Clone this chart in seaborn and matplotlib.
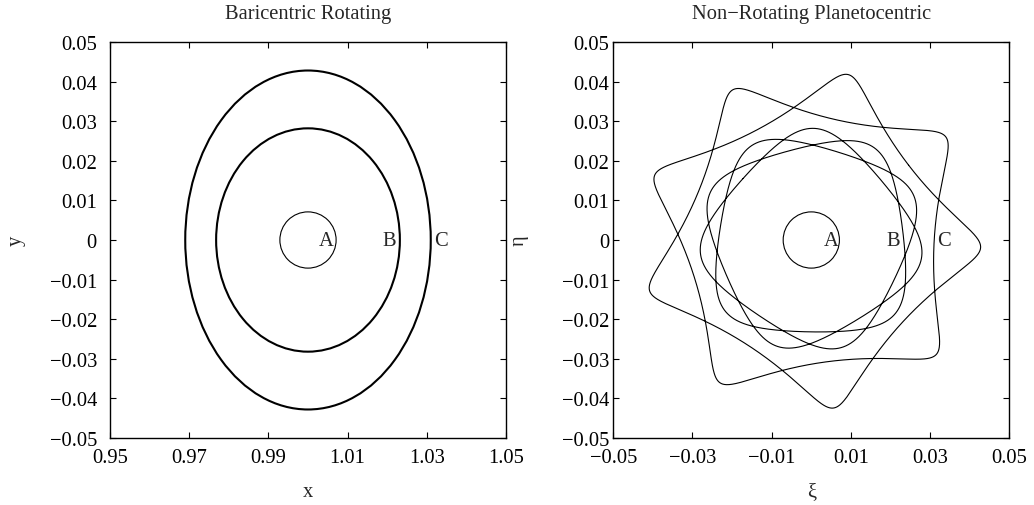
import numpy as np
import pandas as pd
import seaborn as sns
import matplotlib.pyplot as plt
from matplotlib.patches import Ellipse

sns.set_theme(style='ticks')
plt.rcParams['font.family'] = ['Liberation Serif', 'DejaVu Serif']
plt.rcParams['axes.unicode_minus'] = True

# orbits A, B, C around the planet
orbit_names = ['A', 'B', 'C']
planet_x = 1.0
semi_x = [0.0071, 0.0232, 0.0310]
semi_y = [0.0071, 0.0282, 0.0428]
# orbit rate / frame rate, tip direction (deg) and half turns drawn (non-rotating panel)
freq_ratio = [None, 2.2, 1.8]
tip_angle = [None, 89.0, -2.5]
half_turns = [None, 11, 9]

label_x_rot = [1.0047, 1.0205, 1.0335]
label_x_fix = [0.0049, 0.0207, 0.0336]

xticks_rot = [0.95, 0.97, 0.99, 1.01, 1.03, 1.05]
xticks_fix = [-0.05, -0.03, -0.01, 0.01, 0.03, 0.05]
yticks = [0.05, 0.04, 0.03, 0.02, 0.01, 0, -0.01, -0.02, -0.03, -0.04, -0.05]
xlabels_rot = ['0.95', '0.97', '0.99', '1.01', '1.03', '1.05']
xlabels_fix = ['\u22120.05', '\u22120.03', '\u22120.01', '0.01', '0.03', '0.05']
ylabels = ['0.05', '0.04', '0.03', '0.02', '0.01', '0', '\u22120.01', '\u22120.02',
           '\u22120.03', '\u22120.04', '\u22120.05']

FS = 14.8


def non_rotating(a, b, w, tip_deg, n_half):
    # rotating frame ellipse seen from non rotating planet centred axes
    theta = np.linspace(-0.5*np.pi, (n_half - 0.5)*np.pi, 6000)
    t = theta / w
    zr = a*np.cos(theta + np.pi/2) - 1j*b*np.sin(theta + np.pi/2)
    z = zr*np.exp(1j*(t + np.deg2rad(tip_deg) + np.pi/2))
    return pd.DataFrame({'xi': z.real, 'eta': z.imag})


fig = plt.figure(figsize=(10.34, 5.06), dpi=100)
ax1 = fig.add_axes([0.10638, 0.13241, 0.38298, 0.78261])
ax2 = fig.add_axes([0.59313, 0.13241, 0.38298, 0.78261])

# left panel
for i, name in enumerate(orbit_names):
    lw = 0.8 if name == 'A' else 1.5
    ax1.add_patch(Ellipse((planet_x, 0), 2*semi_x[i], 2*semi_y[i], fill=False,
                          edgecolor='black', lw=lw))
    ax1.text(label_x_rot[i], 0, name, ha='center', va='center', fontsize=FS)

# right panel
ax2.add_patch(Ellipse((0, 0), 2*semi_x[0], 2*semi_y[0], fill=False, edgecolor='black', lw=0.8))
for i, name in enumerate(orbit_names):
    if freq_ratio[i] is not None:
        df = non_rotating(semi_x[i], semi_y[i], freq_ratio[i], tip_angle[i], half_turns[i])
        sns.lineplot(data=df, x='xi', y='eta', sort=False, estimator=None,
                     color='black', lw=0.8, ax=ax2)
    ax2.text(label_x_fix[i], 0, name, ha='center', va='center', fontsize=FS)

for ax, xt, xl in [(ax1, xticks_rot, xlabels_rot), (ax2, xticks_fix, xlabels_fix)]:
    ax.set_xlim(xt[0], xt[-1])
    ax.set_ylim(-0.05, 0.05)
    ax.set_xticks(xt)
    ax.set_xticklabels(xl)
    ax.set_yticks(yticks)
    ax.set_yticklabels(ylabels)
    ax.tick_params(direction='in', top=True, right=True, length=4.5, width=0.8,
                   labelsize=FS, colors='black', pad=7)
    for s in ax.spines.values():
        s.set_color('black')
        s.set_linewidth(1.0)

ax1.tick_params(axis='y', pad=9.4)
ax2.tick_params(axis='y', pad=2.9)

ax1.set_xlabel('x', fontsize=FS, labelpad=11)
ax1.set_ylabel('y', fontsize=FS, labelpad=17)
ax1.set_title('Baricentric Rotating', fontsize=FS, pad=17)
ax2.set_xlabel('\u03be', fontsize=FS, labelpad=11)
ax2.set_ylabel('\u03b7', fontsize=FS, labelpad=24)
ax2.set_title('Non\u2212Rotating Planetocentric', fontsize=FS, pad=17)

fig.savefig('out.png', dpi=100)
